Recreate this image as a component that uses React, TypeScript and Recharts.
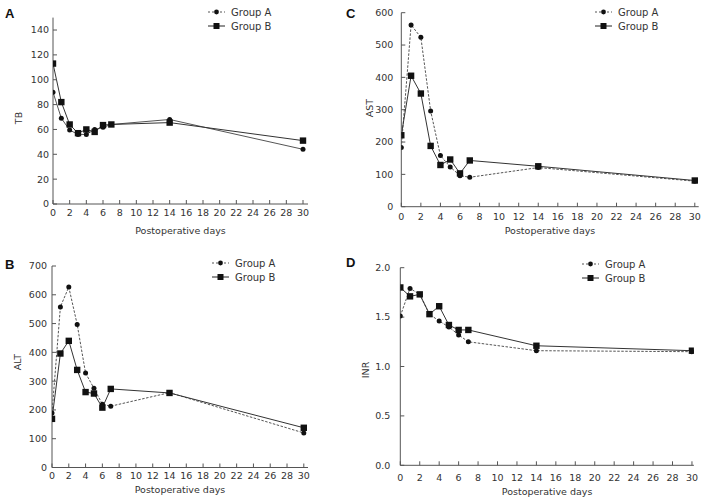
import React from "react";
import { LineChart, Line, XAxis, YAxis, Label } from "recharts";

const days = [0, 1, 2, 3, 4, 5, 6, 7, 14, 30];
const dayTicks = [0, 2, 4, 6, 8, 10, 12, 14, 16, 18, 20, 22, 24, 26, 28, 30];
const groupNames = ["Group A", "Group B"];

const tbA = [90, 69, 59.5, 56, 56, 60, 61.7, 64, 68, 44];
const tbB = [113, 82, 64, 57, 60, 58, 63.5, 64, 65.5, 51];
const tbTicks = [0, 20, 40, 60, 80, 100, 120, 140];

const astA = [183, 562, 524, 296, 158, 123, 96, 91, 121, 79];
const astB = [221, 405, 350, 188, 129, 146, 103, 143, 125, 81];
const astTicks = [0, 100, 200, 300, 400, 500, 600];

const altA = [189, 558, 627, 497, 328, 275, 220, 213, 260, 120];
const altB = [169, 396, 440, 339, 262, 257, 208, 273, 259, 138];
const altTicks = [0, 100, 200, 300, 400, 500, 600, 700];

const inrA = [1.51, 1.79, 1.73, 1.53, 1.46, 1.4, 1.32, 1.25, 1.16, 1.15];
const inrB = [1.8, 1.71, 1.73, 1.53, 1.61, 1.42, 1.37, 1.37, 1.21, 1.16];
const inrTicks = [0, 0.5, 1, 1.5, 2];

const FONT = "DejaVu Sans, sans-serif";
const TEXT = "#333";
const AXIS = "#555";

const CircleDot = (p: any) => (
  <circle key={`c-${p.index}`} cx={p.cx} cy={p.cy} r={2.5} fill="#111" />
);
const SquareDot = (p: any) => (
  <rect key={`s-${p.index}`} x={p.cx - 3.2} y={p.cy - 3.2} width={6.4} height={6.4} fill="#111" />
);

function LegendBox({ left, top, dashA }: { left: number; top: number; dashA: boolean }) {
  return (
    <div style={{ position: "absolute", left, top, fontFamily: FONT, fontSize: 10, color: TEXT }}>
      {groupNames.map((name, i) => (
        <div key={name} style={{ display: "flex", alignItems: "center", height: 14 }}>
          <svg width={17} height={8} style={{ marginRight: 6 }}>
            <line
              x1={0}
              y1={4}
              x2={17}
              y2={4}
              stroke={i === 0 ? "#555" : "#222"}
              strokeDasharray={i === 0 && dashA ? "2 2" : undefined}
            />
            {i === 0 ? (
              <circle cx={8.5} cy={4} r={2.4} fill="#111" />
            ) : (
              <rect x={5.5} y={1} width={6} height={6} fill="#111" />
            )}
          </svg>
          <span>{name}</span>
        </div>
      ))}
    </div>
  );
}

interface PanelProps {
  left: number;
  top: number;
  yName: string;
  a: number[];
  b: number[];
  yTicks: number[];
  yMax: number;
  xMax: number;
  plotLeft: number;
  plotTop: number;
  plotBottom: number;
  plotRight: number;
  xTickGap: number;
  yTickGap: number;
  xLabelGap: number;
  yLabelX: number;
  yLabelY: number;
  legendLeft: number;
  legendTop: number;
  dashA: boolean;
  fmt?: (v: number) => string;
}

function Panel(p: PanelProps) {
  const W = 352;
  const H = 251;
  const axisH = 30;
  const rows = days.map((d, i) => ({ day: d, a: p.a[i], b: p.b[i] }));
  const tickStyle = { fill: TEXT, fontSize: 9.5, fontFamily: FONT };
  return (
    <div style={{ position: "absolute", left: p.left, top: p.top, width: W, height: H }}>
      <LineChart
        width={W}
        height={H}
        data={rows}
        margin={{
          top: p.plotTop,
          left: 5,
          right: W - p.plotRight,
          bottom: H - p.plotBottom - axisH,
        }}
      >
        <XAxis
          type="number"
          dataKey="day"
          domain={[0, p.xMax]}
          ticks={dayTicks}
          interval={0}
          allowDataOverflow
          height={axisH}
          tickSize={-4}
          tickMargin={p.xTickGap + 0.8}
          stroke={AXIS}
          tick={tickStyle}
        >
          <Label
            content={(lp: any) => {
              const vb = lp.viewBox;
              return (
                <text
                  x={vb.x + vb.width / 2}
                  y={vb.y + p.xLabelGap}
                  textAnchor="middle"
                  dominantBaseline="central"
                  fill={TEXT}
                  fontSize={9.5}
                  fontFamily={FONT}
                >
                  Postoperative days
                </text>
              );
            }}
          />
        </XAxis>
        <YAxis
          type="number"
          domain={[0, p.yMax]}
          ticks={p.yTicks}
          interval={0}
          width={p.plotLeft - 5}
          tickSize={-4}
          tickMargin={p.yTickGap + 4}
          stroke={AXIS}
          tick={tickStyle}
          tickFormatter={p.fmt}
        >
          <Label
            content={() => (
              <text
                x={p.yLabelX}
                y={p.yLabelY}
                transform={`rotate(-90 ${p.yLabelX} ${p.yLabelY})`}
                textAnchor="middle"
                dominantBaseline="central"
                fill={TEXT}
                fontSize={9.5}
                fontFamily={FONT}
              >
                {p.yName}
              </text>
            )}
          />
        </YAxis>
        <Line
          type="linear"
          dataKey="a"
          stroke="#555"
          strokeWidth={1}
          strokeDasharray={p.dashA ? "2.5 1.5" : undefined}
          dot={CircleDot}
          activeDot={false}
          isAnimationActive={false}
        />
        <Line
          type="linear"
          dataKey="b"
          stroke="#333"
          strokeWidth={1}
          dot={SquareDot}
          activeDot={false}
          isAnimationActive={false}
        />
      </LineChart>
      <LegendBox left={p.legendLeft} top={p.legendTop} dashA />
    </div>
  );
}

export default function App() {
  const letter = { fontFamily: "Liberation Sans, Arial, sans-serif", fontWeight: 700, fontSize: 13, fill: "#111" };
  return (
    <div style={{ position: "absolute", left: 0, top: 0, width: 704, height: 502, background: "#fff" }}>
      <Panel
        left={0}
        top={0}
        yName="TB"
        a={tbA}
        b={tbB}
        yTicks={tbTicks}
        yMax={150}
        xMax={30.6}
        plotLeft={53}
        plotTop={17.6}
        plotBottom={204}
        plotRight={308}
        xTickGap={8}
        yTickGap={4}
        xLabelGap={26}
        yLabelX={18}
        yLabelY={118}
        legendLeft={208}
        legendTop={5}
        dashA={false}
      />
      <Panel
        left={352}
        top={0}
        yName="AST"
        a={astA}
        b={astB}
        yTicks={astTicks}
        yMax={600}
        xMax={30.4}
        plotLeft={49.3}
        plotTop={12.7}
        plotBottom={206.7}
        plotRight={346.7}
        xTickGap={9.3}
        yTickGap={8}
        xLabelGap={23.3}
        yLabelX={17}
        yLabelY={108}
        legendLeft={243}
        legendTop={5}
        dashA
      />
      <Panel
        left={0}
        top={251}
        yName="ALT"
        a={altA}
        b={altB}
        yTicks={altTicks}
        yMax={700}
        xMax={30.5}
        plotLeft={52}
        plotTop={15}
        plotBottom={216.5}
        plotRight={308}
        xTickGap={8}
        yTickGap={5}
        xLabelGap={22}
        yLabelX={17}
        yLabelY={111}
        legendLeft={212}
        legendTop={5}
        dashA
      />
      <Panel
        left={352}
        top={251}
        yName="INR"
        a={inrA}
        b={inrB}
        yTicks={inrTicks}
        yMax={2}
        xMax={30.2}
        plotLeft={48.3}
        plotTop={16.7}
        plotBottom={214.3}
        plotRight={341.9}
        xTickGap={12.4}
        yTickGap={10}
        xLabelGap={25.7}
        yLabelX={13}
        yLabelY={119}
        legendLeft={230}
        legendTop={6}
        dashA
        fmt={(v) => v.toFixed(1)}
      />
      <svg width={704} height={502} style={{ position: "absolute", left: 0, top: 0, pointerEvents: "none" }}>
        <text x={5} y={17.5} style={letter}>A</text>
        <text x={346} y={18} style={letter}>C</text>
        <text x={5} y={269} style={letter}>B</text>
        <text x={346} y={267} style={letter}>D</text>
      </svg>
    </div>
  );
}
